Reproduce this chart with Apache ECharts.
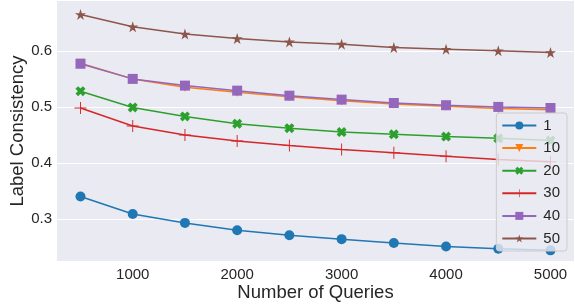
<!DOCTYPE html>
<html>
<head>
<meta charset="utf-8">
<script src="https://cdn.jsdelivr.net/npm/echarts@6/dist/echarts.min.js"></script>
<style>
  html, body { margin: 0; padding: 0; background: #fff; }
  #chart { width: 575px; height: 306px; }
</style>
</head>
<body>
<div id="chart"></div>
<script>
var queries = [500, 1000, 1500, 2000, 2500, 3000, 3500, 4000, 4500, 5000];
var names = ['1', '10', '20', '30', '40', '50'];
var s1  = [0.340, 0.309, 0.293, 0.280, 0.271, 0.264, 0.257, 0.251, 0.247, 0.244];
var s10 = [0.578, 0.550, 0.535, 0.526, 0.518, 0.511, 0.505, 0.501, 0.497, 0.495];
var s20 = [0.528, 0.499, 0.483, 0.470, 0.462, 0.455, 0.451, 0.447, 0.444, 0.440];
var s30 = [0.498, 0.466, 0.450, 0.439, 0.431, 0.424, 0.418, 0.412, 0.406, 0.402];
var s40 = [0.577, 0.550, 0.538, 0.529, 0.520, 0.513, 0.507, 0.503, 0.500, 0.498];
var s50 = [0.665, 0.643, 0.630, 0.622, 0.616, 0.612, 0.606, 0.603, 0.600, 0.597];
var xTicks = [1000, 2000, 3000, 4000, 5000];
var yTicks = [0.3, 0.4, 0.5, 0.6];

var colors = ['#1f77b4', '#ff7f0e', '#2ca02c', '#d62728', '#9467bd', '#8c564b'];
var symbols = [
    'circle',
    'path://M0,0 L10,0 L5,9 Z',
    'path://M0,2.6 L2.6,0 L5,2.4 L7.4,0 L10,2.6 L7.6,5 L10,7.4 L7.4,10 L5,7.6 L2.6,10 L0,7.4 L2.4,5 Z',
    'path://M4.6,0 H5.4 V4.6 H10 V5.4 H5.4 V10 H4.6 V5.4 H0 V4.6 H4.6 Z',
    'rect',
    'path://M5,0 L6.18,3.62 L10,3.62 L6.9,5.86 L8.09,9.5 L5,7.25 L1.91,9.5 L3.1,5.86 L0,3.62 L3.82,3.62 Z'
];
var sizes = [10, 9, 10, 12, 10, 11];
var values = [s1, s10, s20, s30, s40, s50];

var font = '"Liberation Sans", Arial, sans-serif';

var series = values.map(function (vals, i) {
    return {
        name: names[i],
        type: 'line',
        data: vals.map(function (v, j) { return [queries[j], v]; }),
        symbol: symbols[i],
        symbolSize: sizes[i],
        showAllSymbol: true,
        color: colors[i],
        lineStyle: { width: 1.5, color: colors[i] },
        itemStyle: { color: colors[i] },
        emphasis: { disabled: true },
        animation: false
    };
});

var myChart = echarts.init(document.getElementById('chart'));
var option = {
    backgroundColor: '#fff',
    textStyle: { fontFamily: font },
    grid: { left: 57, right: 1, top: 1, bottom: 45, backgroundColor: '#eaeaf2', show: true, borderWidth: 0,
        outerBoundsMode: 'none', containLabel: false },
    legend: {
        orient: 'vertical',
        right: 8,
        top: 113,
        itemWidth: 34,
        itemHeight: 10,
        itemGap: 7.6,
        padding: [5, 7, 5, 5],
        backgroundColor: 'rgba(234,234,242,0.8)',
        borderColor: '#cccccc',
        borderWidth: 1,
        borderRadius: 3,
        textStyle: { fontSize: 15, color: '#262626', fontFamily: font, padding: [0, 0, 0, 2] },
        data: names
    },
    xAxis: {
        type: 'value',
        min: 275,
        max: 5225,
        name: 'Number of Queries',
        nameLocation: 'middle',
        nameGap: 22,
        nameMoveOverlap: false,
        nameTextStyle: { fontSize: 18.5, color: '#262626', verticalAlign: 'top' },
        axisLine: { show: false },
        axisTick: { show: false, customValues: xTicks },
        axisLabel: { customValues: xTicks, fontSize: 15, color: '#262626', margin: 6,
            formatter: function (v) { return String(v); } },
        splitLine: { show: false }
    },
    yAxis: {
        type: 'value',
        min: 0.225,
        max: 0.689,
        name: 'Label Consistency',
        nameLocation: 'middle',
        nameGap: 29.5,
        nameMoveOverlap: false,
        nameTextStyle: { fontSize: 18.5, color: '#262626' },
        axisLine: { show: false },
        axisTick: { show: false, customValues: yTicks },
        axisLabel: { customValues: yTicks, fontSize: 15, color: '#262626', margin: 5,
            formatter: function (v) { return v.toFixed(1); } },
        splitLine: { show: true, lineStyle: { color: '#ffffff', width: 1.2 } }
    },
    series: series
};
myChart.setOption(option);
</script>
</body>
</html>
